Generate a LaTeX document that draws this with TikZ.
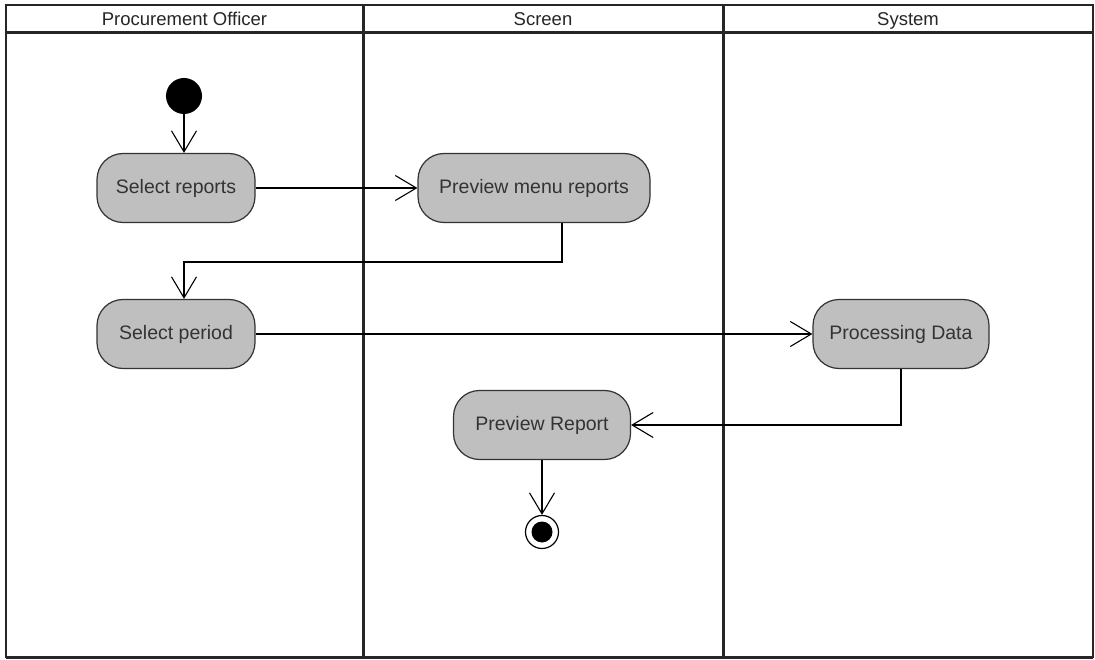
\documentclass[tikz,border=0pt]{standalone}
\usepackage{fontspec}
\setmainfont{Liberation Sans}
\usetikzlibrary{arrows.meta}
\begin{document}
\begin{tikzpicture}[x=1pt,y=-1pt,
  action/.style={draw=black!80, line width=1.2pt, fill=gray!50, rounded corners=26pt,
    minimum height=69pt, text=black!80, font=\fontsize{19.5}{22}\selectfont, inner sep=0pt},
  flow/.style={draw=black, line width=1.1pt, -{Straight Barb[length=21pt,width=25pt]}},
  lane/.style={line width=3pt, black!85},
  head/.style={font=\fontsize{18.5}{20}\selectfont, text=black!85, anchor=base}]
\useasboundingbox (0,0) rectangle (1095,660);
\fill[white] (0,0) rectangle (1095,660);

% swimlane frame
\draw[line width=2pt, black!85] (6,5) rectangle (1093,657);
\draw[lane] (6,33) -- (1093,33);
\draw[lane] (363,5) -- (363,657);
\draw[lane] (723,5) -- (723,657);
\draw[lane] (6,657) -- (1093,657);

% lane headers
\node[head] (h1) at (184.5,26) {Procurement Officer};
\node[head] (h2) at (543,26) {Screen};
\node[head] (h3) at (908,26) {System};

% start and end states
\node[circle, fill=black, minimum size=36pt, inner sep=0pt] (init) at (184,96) {};
\node[circle, draw=black, line width=1.2pt, fill=white, minimum size=33pt, inner sep=0pt] (final) at (542,532) {};
\node[circle, fill=black, minimum size=21pt, inner sep=0pt] (finalcore) at (final) {};

% actions
\node[action, minimum width=158pt] (sr) at (176,188) {Select reports};
\node[action, minimum width=232pt] (pmr) at (534,188) {Preview menu reports};
\node[action, minimum width=158pt] (sp) at (176,334) {Select period};
\node[action, minimum width=176pt] (pd) at (901,334) {Processing Data};
\node[action, minimum width=177pt] (pr) at (542,425) {Preview Report};

% control flow
\coordinate (bend1) at (562,262);
\draw[flow] (init.south) -- (init.south |- sr.north);
\draw[flow] (sr.east) -- (pmr.west);
\draw[flow] (pmr.south -| bend1) -- (bend1) -- (bend1 -| init) -- (init |- sp.north);
\draw[flow] (sp.east) -- (pd.west);
\draw[flow] (pd.south) |- (pr.east);
\draw[flow] (pr.south) -- (final.north);
\end{tikzpicture}
\end{document}
